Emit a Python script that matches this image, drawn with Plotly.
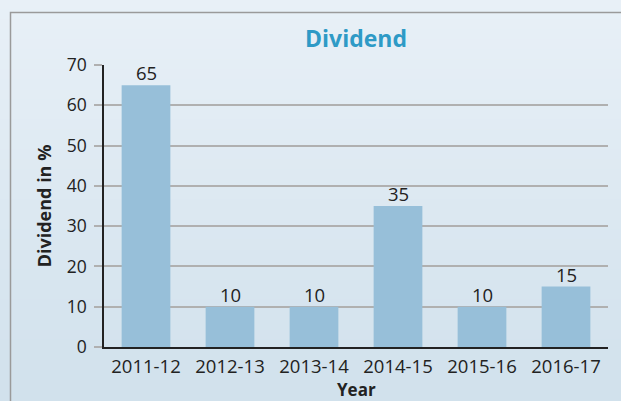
import plotly.graph_objects as go

years = ["2011-12", "2012-13", "2013-14", "2014-15", "2015-16", "2016-17"]
dividend = [65, 10, 10, 35, 10, 15]
y_ticks = [0, 10, 20, 30, 40, 50, 60, 70]

FONT = "Open Sans"

fig = go.Figure()
fig.add_trace(go.Bar(
    x=years, y=dividend,
    marker=dict(color="#97bfd9", line=dict(width=0)),
    cliponaxis=False,
))

# plot area in pixels: x 104..608, y 65..347
PL, PR, PT, PB = 104, 608, 65, 347
W, H = 621, 401
def px(x):
    return (x - PL) / (PR - PL)
def py(y):
    return (PB - y) / (PB - PT)

# value labels built from the data
annotations = [
    dict(x=yr, y=v, xref="x", yref="y", text=str(v), showarrow=False,
         yanchor="bottom", xanchor="center", yshift=-2,
         font=dict(family=FONT, size=18.5, color="#222222"))
    for yr, v in zip(years, dividend)
]
# x axis title
annotations.append(dict(x=0.5, y=py(389.5), xref="paper", yref="paper", text="<b>Year</b>",
                        showarrow=False, xanchor="center", yanchor="middle",
                        font=dict(family=FONT, size=17, color="#222222")))

# background gradient bands (decoration)
shapes = []
n = 40
top = (232, 240, 247)
bot = (209, 225, 236)
for i in range(n):
    t = i / (n - 1)
    c = tuple(round(top[k] + (bot[k] - top[k]) * t) for k in range(3))
    y0 = H * i / n - 1
    y1 = H * (i + 1) / n + 1
    shapes.append(dict(type="rect", xref="paper", yref="paper", layer="below",
                       x0=px(-5), x1=px(W + 5), y0=py(y1), y1=py(y0),
                       fillcolor="rgb(%d,%d,%d)" % c, line=dict(width=0)))
# frame border
shapes.append(dict(type="path", xref="paper", yref="paper", layer="below",
                   path="M %f,%f L %f,%f L %f,%f" % (px(10.5), py(H + 5), px(10.5), py(12.5), px(W + 5), py(12.5)),
                   line=dict(color="#9a9a9a", width=1.5)))

fig.update_layout(
    width=W, height=H,
    margin=dict(l=PL, r=W - PR, t=PT, b=H - PB, autoexpand=False),
    paper_bgcolor="#e0eaf3",
    plot_bgcolor="rgba(0,0,0,0)",
    bargap=0.42,
    showlegend=False,
    shapes=shapes,
    annotations=annotations,
    title=dict(text="<b>Dividend</b>", x=0.5, xanchor="center", xref="paper",
               y=1 - 39 / H, yanchor="middle",
               font=dict(family=FONT, size=23, color="#2e9ac6")),
    xaxis=dict(
        type="category",
        tickfont=dict(family=FONT, size=18.5, color="#222222"),
        showline=True, linecolor="#222222", linewidth=1.5,
        ticks="", showgrid=False, tickangle=0,
        ticklabelstandoff=2,
    ),
    yaxis=dict(
        title=dict(text="<b>Dividend in %</b>", font=dict(family=FONT, size=18, color="#222222"), standoff=10),
        range=[0, 70], tickvals=y_ticks,
        tickfont=dict(family=FONT, size=17.5, color="#222222"),
        showline=True, linecolor="#222222", linewidth=1.5,
        ticks="outside", ticklen=8, tickcolor="#b0b0b0", tickwidth=1.5,
        ticklabelstandoff=4,
        showgrid=True, gridcolor="#b0b0b0", gridwidth=1.5,
        zeroline=False,
    ),
)

fig.write_html("out.html",
               config={"displayModeBar": False},
               post_script="document.body.style.margin='0';document.body.style.overflow='hidden';")
